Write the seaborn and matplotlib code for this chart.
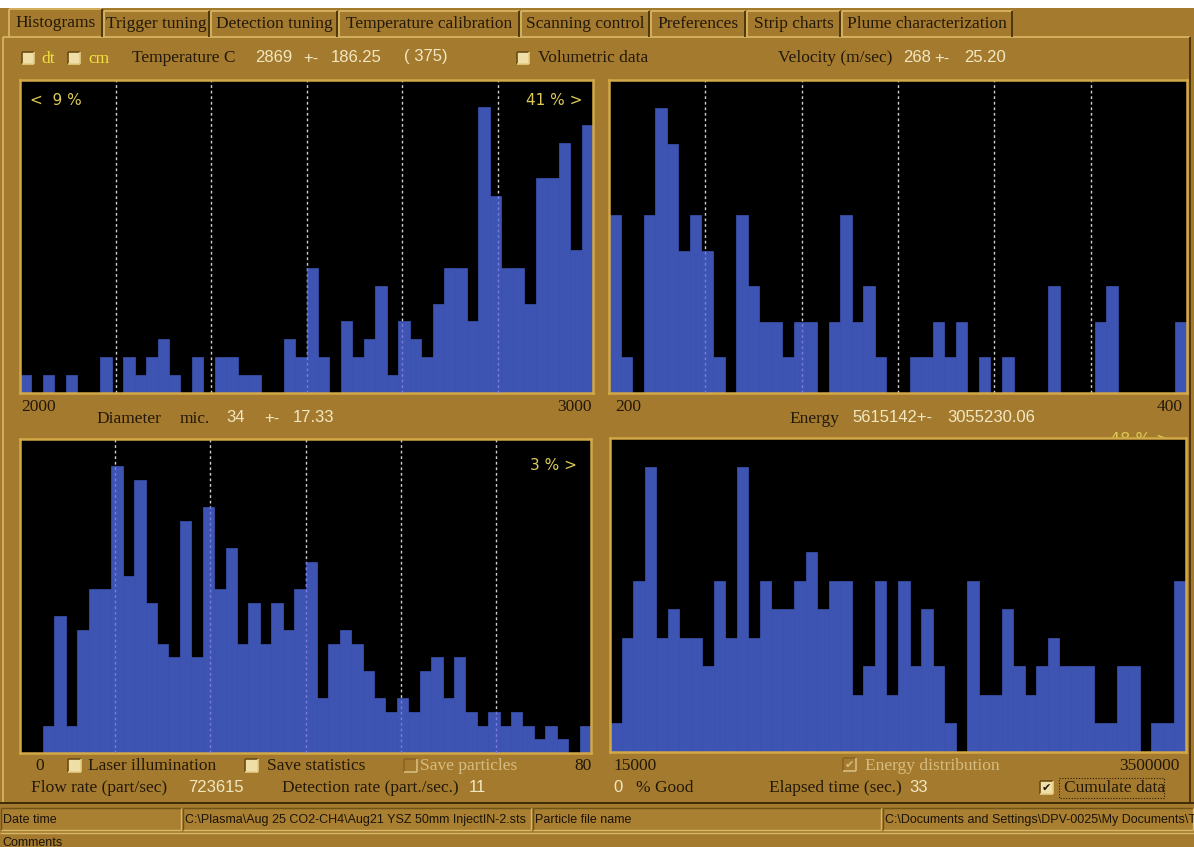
import numpy as np
import pandas as pd
import matplotlib
matplotlib.use("Agg")
import matplotlib.pyplot as plt
import seaborn as sns
from matplotlib.patches import Rectangle

# ---------------- data ----------------
temp_counts = [1, 0, 1, 0, 1, 0, 0, 2, 0, 2, 1, 2, 3, 1, 0, 2, 0, 2, 2, 1, 1, 0, 0, 3, 2,
               7, 2, 0, 4, 2, 3, 6, 1, 4, 3, 2, 5, 7, 7, 4, 16, 11, 7, 7, 5, 12, 12, 14, 8, 15]
vel_counts = [5, 1, 0, 5, 8, 7, 4, 5, 4, 1, 0, 5, 3, 2, 2, 1, 2, 2, 0, 2, 5, 2, 3, 1, 0,
              0, 1, 1, 2, 1, 2, 0, 1, 0, 1, 0, 0, 0, 3, 0, 0, 0, 2, 3, 0, 0, 0, 0, 0, 2]
diam_counts = [0, 0, 2, 10, 2, 9, 12, 12, 21, 13, 20, 11, 8, 7, 17, 7, 18, 12, 15, 8, 11, 8, 11, 9, 12,
               14, 4, 8, 9, 8, 6, 4, 3, 4, 3, 6, 7, 4, 7, 3, 2, 3, 2, 3, 2, 1, 2, 1, 0, 2]
energy_counts = [1, 4, 6, 10, 4, 5, 4, 4, 3, 6, 4, 10, 4, 6, 5, 5, 6, 7, 5, 6, 6, 2, 3, 6, 2,
                 6, 3, 5, 3, 1, 0, 6, 2, 2, 5, 3, 2, 3, 4, 3, 3, 3, 1, 1, 3, 3, 0, 1, 1, 6]
temp_range = (2000, 3000)
vel_range = (200, 400)
diam_range = (0, 80)
energy_range = (15000, 3500000)
temp_tick_labels = ["2000", "3000"]
vel_tick_labels = ["200", "400"]
diam_tick_labels = ["0", "80"]
energy_tick_labels = ["15000", "3500000"]
tab_names = ["Histograms", "Trigger tuning", "Detection tuning", "Temperature calibration",
             "Scanning control", "Preferences", "Strip charts", "Plume characterization"]
status_fields = ["Date time", r"C:\Plasma\Aug 25 CO2-CH4\Aug21 YSZ 50mm InjectIN-2.sts",
                 "Particle file name", r"C:\Documents and Settings\DPV-0025\My Documents\T"]

# ---------------- style ----------------
sns.set_style("white")
plt.rcParams['font.family'] = ['Liberation Serif', 'DejaVu Sans']
SERIF = ['Liberation Serif', 'DejaVu Serif']
NUM = ['Liberation Sans', 'DejaVu Sans']
SANS = ['DejaVu Sans']
NUMSIZE = 12

W, H = 1194, 847
BG = '#a47b2e'
DARK = '#24180a'
CREAM = '#f3e7c2'
YELLOW = '#f2e23c'
PYELLOW = '#dccb55'
GREY = '#d6bd82'
LIGHT = '#dcb865'
SHADOW = '#3e2b08'
BLUE = '#3d54b3'

fig = plt.figure(figsize=(W / 100, H / 100), dpi=100)
fig.patch.set_facecolor(BG)
bg = fig.add_axes([0, 0, 1, 1])
bg.set_xlim(0, W)
bg.set_ylim(H, 0)
bg.axis('off')


def line(x0, y0, x1, y1, c, lw=1.0, ls='-', z=2):
    bg.plot([x0, x1], [y0, y1], color=c, lw=lw, ls=ls, solid_capstyle='butt', zorder=z)


def rect(x0, y0, x1, y1, fc, ec='none', lw=1.0, z=1, ls='-'):
    bg.add_patch(Rectangle((x0, y0), x1 - x0, y1 - y0, facecolor=fc, edgecolor=ec,
                           lw=lw, zorder=z, ls=ls))


def text(x, y, s, c=DARK, size=12.5, fam=SERIF, ha='left', z=3):
    bg.text(x, y, s, color=c, fontsize=size, family=fam, ha=ha, va='center', zorder=z)


def num(x, y, s, ha='left'):
    text(x, y, s, CREAM, NUMSIZE, NUM, ha=ha)


def checkbox(x, y, kind='normal', checked=False, s=12):
    if kind == 'normal':
        rect(x, y, x + s, y + s, '#efdfa6', 'none')
        line(x, y, x + s, y, '#6a4c14', 1.2)
        line(x, y, x, y + s, '#6a4c14', 1.2)
        line(x + s, y, x + s, y + s, '#e6cb84', 1.2)
        line(x, y + s, x + s, y + s, '#e6cb84', 1.2)
        if checked:
            bg.text(x + s / 2, y + s / 2 + 0.5, '\u2714', color='#1c1408', fontsize=8,
                    family=SANS, ha='center', va='center', zorder=4)
    else:
        rect(x, y, x + s, y + s, BG, 'none')
        line(x, y, x + s, y, '#8a6422', 1.2)
        line(x, y, x, y + s, '#8a6422', 1.2)
        line(x + s, y, x + s, y + s, GREY, 1.2)
        line(x, y + s, x + s, y + s, GREY, 1.2)
        if checked:
            bg.text(x + s / 2, y + s / 2 + 0.5, '\u2714', color=GREY, fontsize=8,
                    family=SANS, ha='center', va='center', zorder=4)


# ---------------- window chrome ----------------
rect(0, 0, W, 8, 'white', z=0.5)

# tab page frame
line(3, 37, W - 4, 37, LIGHT, 1.2)
line(3, 37, 3, 802, LIGHT, 1.2)
line(W - 4, 37, W - 4, 802, SHADOW, 1.2)
line(0, 803, W, 803, SHADOW, 1.4)

tab_edges = [8, 103, 210, 338, 520, 650, 746, 841, 1013]
for i, name in enumerate(tab_names):
    x0, x1 = tab_edges[i], tab_edges[i + 1]
    top = 9 if i == 0 else 11
    rect(x0, top, x1, 38 if i == 0 else 37, BG, z=1.5)
    line(x0 + 1, top, x1 - 1, top, LIGHT, 1.2, z=2)
    line(x0 + 1, top, x0 + 1, 37, LIGHT, 1.2, z=2)
    line(x1 - 1, top, x1 - 1, 37, SHADOW, 1.2, z=2)
    text((x0 + x1) / 2, 24 if i else 23, name, DARK, 12.5, SERIF, ha='center')

# ---------------- row above the top panels ----------------
ry = 58
checkbox(22, ry - 6)
text(41, ry + 1, 'dt', YELLOW, 12.5)
checkbox(68, ry - 6)
text(88, ry + 1, 'cm', YELLOW, 12.5)
text(132, ry, 'Temperature C', DARK, 12.5)
num(255, ry, '2869')
num(303, ry, '+-')
num(331, ry, '186.25')
num(404, ry - 1, '( 375)')
checkbox(517, ry - 6)
text(538, ry, 'Volumetric data', DARK, 12.5)
text(778, ry, 'Velocity (m/sec)', DARK, 12.5)
num(903, ry, '268')
num(934, ry, '+-')
num(964, ry, '25.20')

# ---------------- between the panel rows ----------------
text(21, 407, temp_tick_labels[0], DARK, 12.5)
text(592, 407, temp_tick_labels[1], DARK, 12.5, ha='right')
text(615, 407, vel_tick_labels[0], DARK, 12.5)
text(1183, 407, vel_tick_labels[1], DARK, 12.5, ha='right')
text(96, 419, 'Diameter', DARK, 12.5)
text(180, 419, 'mic.', DARK, 12.5)
num(226, 418, '34')
num(264, 418, '+-')
num(293, 418, '17.33')
text(789, 419, 'Energy', DARK, 12.5)
num(852, 418, '5615142+-')
num(947, 418, '3055230.06')
text(1110, 440, '48 % >', PYELLOW, 11.5, SANS, z=0.8)

# ---------------- rows below the bottom panels ----------------
r1, r2 = 766, 788
text(35, r1, diam_tick_labels[0], DARK, 12.5)
checkbox(68, r1 - 7, s=13)
text(88, r1, 'Laser illumination', DARK, 12.5)
checkbox(245, r1 - 7, s=13)
text(267, r1, 'Save statistics', DARK, 12.5)
checkbox(404, r1 - 7, kind='grey', s=13)
text(420, r1, 'Save particles', GREY, 12.5)
text(592, r1, diam_tick_labels[1], DARK, 12.5, ha='right')
text(613, r1, energy_tick_labels[0], DARK, 12.5)
checkbox(843, r1 - 8, kind='grey', checked=True, s=13)
text(865, r1, 'Energy distribution', GREY, 12.5)
text(1180, r1, energy_tick_labels[1], DARK, 12.5, ha='right')

text(31, r2, 'Flow rate (part/sec)', DARK, 12.5)
num(188, r2, '723615')
text(282, r2, 'Detection rate (part./sec.)', DARK, 12.5)
num(469, r2, '11')
num(613, r2, '0')
text(636, r2, '% Good', DARK, 12.5)
text(769, r2, 'Elapsed time (sec.)', DARK, 12.5)
num(909, r2, '33')
checkbox(1040, r2 - 7, checked=True, s=13)
text(1064, r2, 'Cumulate data', DARK, 12.5)
rect(1059, r2 - 10, 1164, r2 + 10, 'none', '#2a1c06', 0.8, z=3, ls=(0, (1, 1.5)))

# ---------------- status bar ----------------
sb0, sb1 = 808, 830
status_edges = [0, 182, 532, 882, W]
for i, s in enumerate(status_fields):
    x0, x1 = status_edges[i] + 1, status_edges[i + 1] - 1
    rect(x0, sb0, x1, sb1, '#a97f31', z=1.5)
    line(x0, sb0, x1, sb0, '#6e5218', 1.0)
    line(x0, sb0, x0, sb1, '#6e5218', 1.0)
    line(x0, sb1, x1, sb1, '#d8b868', 1.0)
    line(x1, sb0, x1, sb1, '#d8b868', 1.0)
    text(x0 + 2, (sb0 + sb1) / 2 + 1, s, '#1c1408', 9, ['Liberation Sans', 'DejaVu Sans'])
line(0, 833, W, 833, '#d8b868', 1.0)
text(2, 843, 'Comments', '#1c1408', 9, ['Liberation Sans', 'DejaVu Sans'])


# ---------------- histogram panels ----------------
def axrect(x0, y0, x1, y1):
    return [x0 / W, 1 - y1 / H, (x1 - x0) / W, (y1 - y0) / H]


def panel(box, counts, rng, ymax, grid=True):
    ax = fig.add_axes(axrect(*box))
    lo, hi = rng
    n = len(counts)
    edges = np.linspace(lo, hi, n + 1)
    centers = (edges[:-1] + edges[1:]) / 2
    df = pd.DataFrame({'value': centers, 'count': counts})
    ax.set_facecolor('black')
    sns.histplot(data=df, x='value', weights='count', bins=n, binrange=(lo, hi), ax=ax,
                 color=BLUE, alpha=1, edgecolor=BLUE, linewidth=0.5, zorder=2)
    if grid:
        for k in range(1, 6):
            xv = lo + k * (hi - lo) / 6
            ax.axvline(xv, color='#d0d0d0', lw=1.0, ls=(0, (2, 2)), zorder=1)
            idx = min(int((xv - lo) / (hi - lo) * n), n - 1)
            if counts[idx] > 0:
                ax.vlines(xv, 0, counts[idx], colors='#7b7bdd', lw=1.0,
                          linestyles=(0, (2, 2)), zorder=3)
    ax.set_xlim(lo, hi)
    ax.set_ylim(0, ymax)
    ax.set_xticks([])
    ax.set_yticks([])
    ax.set_xlabel('')
    ax.set_ylabel('')
    for sp in ax.spines.values():
        sp.set_visible(True)
        sp.set_color('#d3a846')
        sp.set_linewidth(1.8)
    return ax


ax_t = panel((20, 80, 593, 393), temp_counts, temp_range, 17.5)
ax_v = panel((609, 80, 1187, 393), vel_counts, vel_range, 8.8)
ax_d = panel((20, 439, 591, 753), diam_counts, diam_range, 23)
ax_e = panel((610, 438, 1186, 752), energy_counts, energy_range, 11, grid=False)

ax_t.text(0.018, 0.935, '<  9 %', transform=ax_t.transAxes, color=PYELLOW, fontsize=11,
          family=SANS, ha='left', va='center', zorder=5)
ax_t.text(0.982, 0.935, '41 % >', transform=ax_t.transAxes, color=PYELLOW, fontsize=11,
          family=SANS, ha='right', va='center', zorder=5)
ax_d.text(0.975, 0.915, '3 % >', transform=ax_d.transAxes, color=PYELLOW, fontsize=11,
          family=SANS, ha='right', va='center', zorder=5)

fig.savefig('out.png', dpi=100, facecolor=BG)
